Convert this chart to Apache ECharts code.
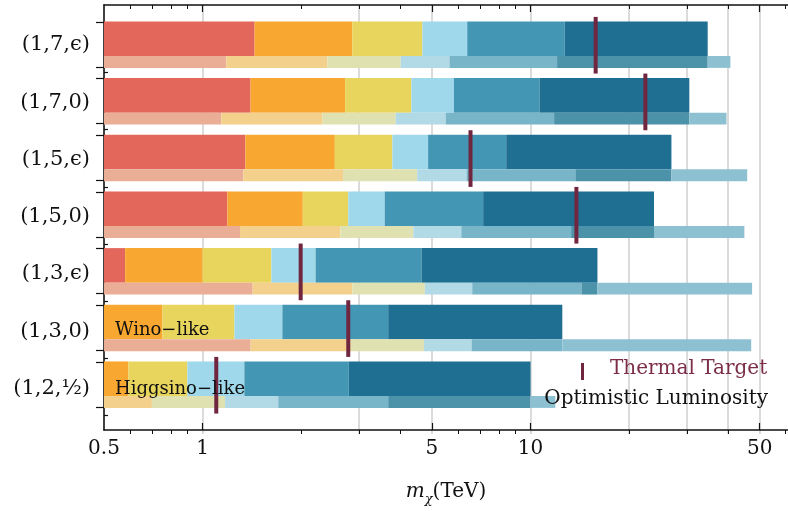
<!DOCTYPE html>
<html>
<head>
<meta charset="utf-8">
<script src="https://cdn.jsdelivr.net/npm/echarts@6/dist/echarts.min.js"></script>
<style>
  html, body { margin: 0; padding: 0; background: #fff; }
  #chart { width: 788px; height: 511px; }
</style>
</head>
<body>
<div id="chart"></div>
<script>
// models (n, dimension, Y) from top to bottom
const models = ['(1,7,ϵ)', '(1,7,0)', '(1,5,ϵ)', '(1,5,0)', '(1,3,ϵ)', '(1,3,0)', '(1,2,{f|½})'];

// upper edge of each coloured band of the main bar, TeV (null = band absent)
const mainRed    = [1.44, 1.40, 1.35, 1.19, 0.58, null, null];
const mainOrange = [2.86, 2.72, 2.53, 2.02, 1.00, 0.754, 0.593];
const mainYellow = [4.68, 4.33, 3.79, 2.78, 1.62, 1.25, 0.898];
const mainLight  = [6.41, 5.84, 4.87, 3.59, 2.21, 1.75, 1.34];
const mainMid    = [12.7, 10.65, 8.43, 7.17, 4.65, 3.68, 2.79];
const mainDark   = [34.7, 30.5, 26.9, 23.8, 16.0, 12.5, 10.0];

// optimistic luminosity (thin bar under each main bar)
const optRed    = [1.18, 1.14, 1.33, 1.30, 1.42, 1.40, null];
const optOrange = [2.40, 2.32, 2.68, 2.63, 2.86, 2.83, 0.70];
const optYellow = [4.02, 3.88, 4.51, 4.39, 4.76, 4.73, 1.17];
const optLight  = [5.66, 5.51, 6.38, 6.15, 6.64, 6.61, 1.70];
const optMid    = [12.05, 11.8, 13.7, 13.3, 14.3, 12.5, 3.68];
const optDark   = [34.7, 30.5, 26.9, 23.8, 16.0, null, 10.0];
const optReach  = [40.7, 39.6, 45.8, 44.9, 47.4, 47.1, 11.9];

// thermal target masses, TeV
const thermal = [15.8, 22.4, 6.56, 13.8, 1.99, 2.78, 1.10];

// axis ticks
const xMin = 0.5, xMax = 61;
const xLabels = [0.5, 1, 5, 10, 50];
const xMajorTicks = [1, 5, 10, 50];
const xMinorTicks = [0.6, 0.7, 0.8, 0.9, 2, 3, 4, 6, 7, 8, 9, 20, 30, 40, 60];
const xGrid = [1, 3, 5, 10, 20, 30, 40, 50];

const mainColors = ['#e3675b', '#f8a830', '#e8d55d', '#9ed8ea', '#4497b4', '#1f6f92'];
const optColors  = ['#eaae97', '#f3d08b', '#dfe1b1', '#b1d9e6', '#79b5c8', '#4c93aa', '#8dc1d1'];
const serif = 'DejaVu Serif';

function buildBands(bands, colors) {
  const out = [];
  models.forEach(function (m, row) {
    let lo = xMin;
    bands.forEach(function (edges, k) {
      const hi = edges[row];
      if (hi == null) return;
      out.push({ value: [lo, hi, row], itemStyle: { color: colors[k] } });
      lo = hi;
    });
  });
  return out;
}

// rectangle between two x values, from row+y0 to row+y1
function bandRenderer(y0, y1) {
  return function (params, api) {
    const a = api.coord([api.value(0), api.value(2) + y0]);
    const b = api.coord([api.value(1), api.value(2) + y1]);
    return {
      type: 'rect',
      shape: { x: a[0], y: a[1], width: b[0] - a[0], height: b[1] - a[1] },
      style: { fill: api.visual('color') }
    };
  };
}

const rowTicksOut = [];
const rowTicksIn = [];
models.forEach(function (m, i) {
  rowTicksOut.push(i - 0.40, i + 0.39);
  rowTicksIn.push(i - 0.30, i - 0.10, i + 0.09, i + 0.30, i + 0.48);
});

const yMin = -0.7, yMax = 6.8;
const gridRect = { left: 104, right: 0, top: 5, bottom: 77 };

function logAxis(extra) {
  return Object.assign({
    type: 'log', min: xMin, max: xMax, logBase: 10,
    axisLabel: { show: false }, splitLine: { show: false },
    axisLine: { show: false, onZero: false }, axisTick: { show: false }
  }, extra);
}
function rowAxis(extra) {
  return Object.assign({
    type: 'value', min: yMin, max: yMax, inverse: true,
    axisLabel: { show: false }, splitLine: { show: false },
    axisLine: { show: false, onZero: false }, axisTick: { show: false }
  }, extra);
}
const frameLine = { show: true, onZero: false, lineStyle: { color: '#111', width: 1.6 } };

const chart = echarts.init(document.getElementById('chart'));
chart.setOption({
  animation: false,
  backgroundColor: '#fff',
  grid: [
    Object.assign({}, gridRect),
    Object.assign({}, gridRect),
    Object.assign({}, gridRect),
    { left: 104, right: 0, top: 16.4, bottom: 93.85 }
  ],
  xAxis: [
    logAxis({
      gridIndex: 0, position: 'bottom',
      axisLine: frameLine,
      axisTick: { show: true, inside: true, length: 7, customValues: xMajorTicks, lineStyle: { color: '#111', width: 1.2 } },
      axisLabel: { show: true, customValues: xLabels, margin: 9, fontFamily: serif, fontSize: 20, color: '#111' },
      name: '{i|m}{s|χ}{n|(TeV)}',
      nameLocation: 'middle', nameGap: 48,
      nameTextStyle: {
        rich: {
          i: { fontFamily: serif, fontStyle: 'italic', fontSize: 20, color: '#111', lineHeight: 28, verticalAlign: 'middle' },
          s: { fontFamily: serif, fontStyle: 'italic', fontSize: 13, color: '#111', lineHeight: 28, verticalAlign: 'bottom' },
          n: { fontFamily: serif, fontSize: 20, color: '#111', lineHeight: 28, verticalAlign: 'middle' }
        }
      }
    }),
    logAxis({
      gridIndex: 0, position: 'top',
      axisLine: frameLine,
      axisTick: { show: true, inside: true, length: 7, customValues: xMajorTicks, lineStyle: { color: '#111', width: 1.2 } }
    }),
    logAxis({
      gridIndex: 1, position: 'bottom',
      axisTick: { show: true, inside: true, length: 4, customValues: xMinorTicks, lineStyle: { color: '#111', width: 1 } }
    }),
    logAxis({
      gridIndex: 1, position: 'top',
      axisTick: { show: true, inside: true, length: 4, customValues: xMinorTicks, lineStyle: { color: '#111', width: 1 } }
    }),
    logAxis({
      gridIndex: 2, position: 'bottom',
      axisTick: { show: false, customValues: xGrid },
      splitLine: { show: true, lineStyle: { color: '#cfcfcf', width: 1.5 } }
    }),
    { type: 'value', gridIndex: 3, show: false }
  ],
  yAxis: [
    rowAxis({
      gridIndex: 0, position: 'left',
      axisLine: frameLine,
      axisTick: { show: true, inside: false, length: 8, customValues: rowTicksOut, lineStyle: { color: '#111', width: 1.2 } }
    }),
    rowAxis({
      gridIndex: 1, position: 'left',
      axisTick: { show: true, inside: true, length: 4, customValues: rowTicksIn, lineStyle: { color: '#111', width: 1.2 } }
    }),
    rowAxis({ gridIndex: 2 }),
    {
      type: 'category', gridIndex: 3, data: models, inverse: true,
      axisLine: { show: false }, axisTick: { show: false },
      axisLabel: {
        margin: 14, fontFamily: serif, fontSize: 21, color: '#111',
        rich: { f: { fontFamily: serif, fontSize: 21, color: '#111' } }
      }
    }
  ],
  series: [
    {
      name: 'main', type: 'custom', xAxisIndex: 0, yAxisIndex: 0, z: 3,
      encode: { x: [0, 1], y: 2 },
      renderItem: bandRenderer(-0.41, 0.20),
      data: buildBands([mainRed, mainOrange, mainYellow, mainLight, mainMid, mainDark], mainColors)
    },
    {
      name: 'optimistic', type: 'custom', xAxisIndex: 0, yAxisIndex: 0, z: 3,
      encode: { x: [0, 1], y: 2 },
      renderItem: bandRenderer(0.20, 0.41),
      data: buildBands([optRed, optOrange, optYellow, optLight, optMid, optDark, optReach], optColors)
    },
    {
      name: 'thermal', type: 'custom', xAxisIndex: 0, yAxisIndex: 0, z: 5,
      encode: { x: 0, y: 1 },
      renderItem: function (params, api) {
        const a = api.coord([api.value(0), api.value(1) - 0.49]);
        const b = api.coord([api.value(0), api.value(1) + 0.51]);
        return {
          type: 'rect',
          shape: { x: a[0] - 2, y: a[1], width: 4, height: b[1] - a[1] },
          style: { fill: '#70263f' }
        };
      },
      data: thermal.map(function (v, row) { return [v, row]; })
    }
  ],
  graphic: [
    { type: 'text', left: 115, top: 321, z: 10, style: { text: 'Wino−like', fontFamily: serif, fontSize: 18, fill: '#111' } },
    { type: 'text', left: 115, top: 380, z: 10, style: { text: 'Higgsino−like', fontFamily: serif, fontSize: 18, fill: '#111' } },
    { type: 'rect', left: 581, top: 363, z: 10, shape: { width: 3, height: 17 }, style: { fill: '#70263f' } },
    { type: 'text', left: 610, top: 359, z: 10, style: { text: 'Thermal Target', fontFamily: serif, fontSize: 20, fill: '#7b2d4a' } },
    { type: 'text', right: 20, top: 389, z: 10, style: { text: 'Optimistic Luminosity', fontFamily: serif, fontSize: 20, fill: '#111' } }
  ]
});
</script>
</body>
</html>
